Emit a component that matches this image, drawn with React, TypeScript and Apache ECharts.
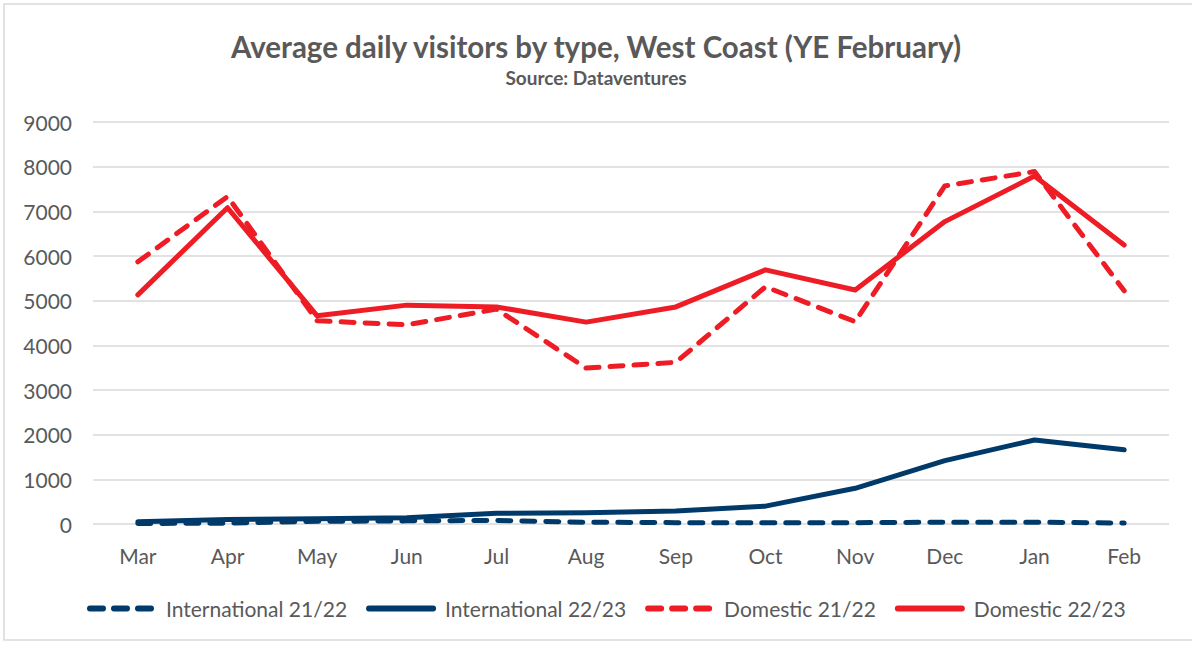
import React, { useEffect, useRef } from "react";
import * as echarts from "echarts";

const months = ["Mar", "Apr", "May", "Jun", "Jul", "Aug", "Sep", "Oct", "Nov", "Dec", "Jan", "Feb"];
const intl2122 = [10, 20, 60, 70, 80, 40, 30, 30, 30, 40, 40, 20];
const intl2223 = [50, 100, 120, 140, 240, 250, 290, 400, 800, 1420, 1880, 1660];
const dom2122 = [5870, 7330, 4550, 4460, 4810, 3490, 3620, 5310, 4530, 7570, 7890, 5220];
const dom2223 = [5130, 7080, 4660, 4900, 4860, 4520, 4860, 5690, 5240, 6770, 7790, 6245];
const yTicks = { min: 0, max: 9000, interval: 1000 };

const NAVY = "#003A6B";
const RED = "#EE1C25";
const TXT = "#595959";
const FONT = "Lato, 'Open Sans', sans-serif";

export default function App() {
  const ref = useRef<HTMLDivElement>(null);
  useEffect(() => {
    if (!ref.current) return;
    const chart = echarts.init(ref.current, null, { renderer: "svg" });
    const mk = (name: string, data: number[], color: string, dashed: boolean) => ({
      name,
      type: "line",
      data,
      symbol: "none",
      lineStyle: {
        color,
        width: 5,
        type: dashed ? [13, 11] : "solid",
        cap: "round",
        join: "round",
      },
      itemStyle: { color },
    });
    chart.setOption({
      animation: false,
      textStyle: { fontFamily: FONT },
      title: {
        text: "Average daily visitors by type, West Coast (YE February)",
        subtext: "Source: Dataventures",
        left: "center",
        top: 26,
        itemGap: 7,
        textStyle: { fontFamily: FONT, fontSize: 29.5, fontWeight: "bold", color: TXT },
        subtextStyle: { fontFamily: FONT, fontSize: 19, fontWeight: "bold", color: TXT },
      },
      graphic: [
        {
          type: "rect",
          shape: { x: 4, y: 4, width: 1200, height: 636 },
          style: { fill: "none", stroke: "#d9d9d9", lineWidth: 1.5 },
          silent: true,
        },
      ],
      grid: { left: 93, right: 23, top: 122, bottom: 122 },
      xAxis: {
        type: "category",
        data: months,
        boundaryGap: true,
        axisLine: { show: false },
        axisTick: { show: false },
        axisLabel: { color: TXT, fontSize: 21, margin: 21, fontFamily: FONT },
      },
      yAxis: {
        type: "value",
        min: yTicks.min,
        max: yTicks.max,
        interval: yTicks.interval,
        axisLine: { show: false },
        axisTick: { show: false },
        splitLine: { lineStyle: { color: "#d9d9d9", width: 1.5 } },
        axisLabel: {
          color: TXT,
          fontSize: 21,
          margin: 21,
          fontFamily: FONT,
          formatter: (v: number) => String(v),
        },
      },
      legend: {
        top: 593,
        left: 82,
        itemWidth: 64,
        itemHeight: 10,
        itemGap: 19,
        itemStyle: { opacity: 0 },
        lineStyle: { width: 6, cap: "round" },
        textStyle: { color: TXT, fontSize: 21, fontFamily: FONT, padding: [0, 0, 0, 7] },
        data: ["International 21/22", "International 22/23", "Domestic 21/22", "Domestic 22/23"],
      },
      series: [
        mk("International 21/22", intl2122, NAVY, true),
        mk("International 22/23", intl2223, NAVY, false),
        mk("Domestic 21/22", dom2122, RED, true),
        mk("Domestic 22/23", dom2223, RED, false),
      ],
    });
    return () => chart.dispose();
  }, []);
  return <div ref={ref} style={{ width: 1192, height: 646, position: "absolute", left: 0, top: 0 }} />;
}
